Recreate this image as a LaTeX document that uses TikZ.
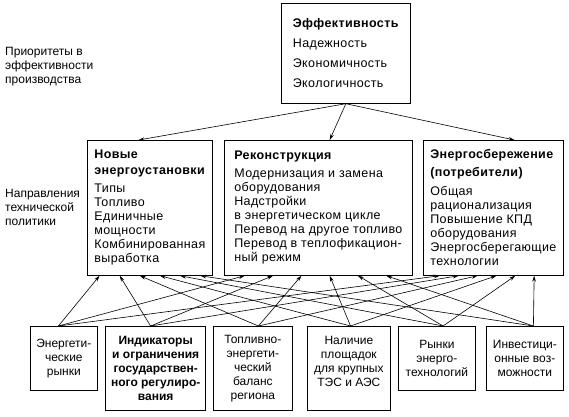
\documentclass[tikz,border=0pt]{standalone}
\usepackage{fontspec}
\setmainfont{Liberation Sans}
\newfontfamily\boxfont{Liberation Sans}[LetterSpace=3]
\usetikzlibrary{arrows.meta,calc}

\begin{document}
\begin{tikzpicture}[x=1pt, y=-1pt, >={Stealth[length=6pt,width=3.6pt]},
font=\fontsize{12}{14}\selectfont,
box/.style={draw, line width=0.7pt, anchor=north west, align=left, inner sep=2pt,
  font=\boxfont\fontsize{12.5}{14}\selectfont},
factor/.style={draw, line width=0.7pt, anchor=north west, align=center, inner sep=1pt},
note/.style={anchor=west, align=left, inner sep=0pt}]
\useasboundingbox (0,0) rectangle (569,416);

% priorities
\node [box, minimum width=129pt, minimum height=100pt] (p) at (281,3)
{\textbf{Эффективность}\\[6pt] Надежность\\[6pt] Экономичность\\[6pt] Экологичность};
\node [note] (p_t) at (5,67) {Приоритеты в\\эффективности\\производства};

% directions
\node [box, minimum width=125pt, minimum height=135pt] (d_1) at (87,140)
{\textbf{Новые}\\[2pt] \textbf{энергоустановки}\\[4pt] Типы\\ Топливо\\ Единичные\\ мощности\\ Комбинированная\\ выработка};
\node [box, minimum width=188pt, minimum height=135pt] (d_2) at (224,140)
{\textbf{Реконструкция}\\[4pt] Модернизация и замена\\ оборудования\\ Надстройки\\ в энергетическом цикле\\ Перевод на другое топливо\\ Перевод в теплофикацион-\\ ный режим};
\node [box, minimum width=140pt, minimum height=135pt] (d_3) at (423,140)
{\textbf{Энергосбережение}\\[4pt] \textbf{(потребители)}\\[5pt] Общая\\ рационализация\\ Повышение КПД\\ оборудования\\ Энергосберегающие\\ технологии};
\node [note] (d_t) at (5,207) {Направления\\технической\\политики};

% factors
\node [factor, minimum width=67pt, minimum height=64pt] (f_1) at (30,326) {Энергети-\\ческие\\рынки};
\node [factor, minimum width=100pt, minimum height=84pt, line width=1.4pt, font=\fontsize{12}{14}\selectfont\bfseries] (f_2) at (105,326)
{Индикаторы\\и ограничения\\государствен-\\ного регулиро-\\вания};
\node [factor, minimum width=79pt, minimum height=84pt] (f_3) at (213,326) {Топливно-\\энергети-\\ческий\\баланс\\региона};
\node [factor, minimum width=83pt, minimum height=84pt] (f_4) at (307,326) {Наличие\\площадок\\для крупных\\ТЭС и АЭС\\ \mbox{}};
\node [factor, minimum width=77pt, minimum height=64pt] (f_5) at (398,326) {Рынки\\энерго-\\технологий};
\node [factor, minimum width=77pt, minimum height=64pt] (f_6) at (486,326) {Инвестици-\\онные воз-\\можности};

\draw [->, line width=0.6pt] (p.south) -- ($(d_1.north west)!0.41!(d_1.north east)$);
\draw [->, line width=0.6pt] (p.south) -- ($(d_2.north west)!0.56!(d_2.north east)$);
\draw [->, line width=0.6pt] (p.south) -- ($(d_3.north west)!0.65!(d_3.north east)$);

\foreach \src/\sx [count=\i] in {f_1/0.42, f_2/0.45, f_3/0.57, f_4/0.52, f_5/0.58, f_6/0.61}
\foreach \tgt/\ta/\td in {d_1/0.10/0.16, d_2/0.11/0.15, d_3/0.12/0.134}
\draw [->, line width=0.6pt] ($(\src.north west)!\sx!(\src.north east)$)
-- ($(\tgt.south west)!{\ta+\td*(\i-1)}!(\tgt.south east)$);
\end{tikzpicture}
\end{document}
